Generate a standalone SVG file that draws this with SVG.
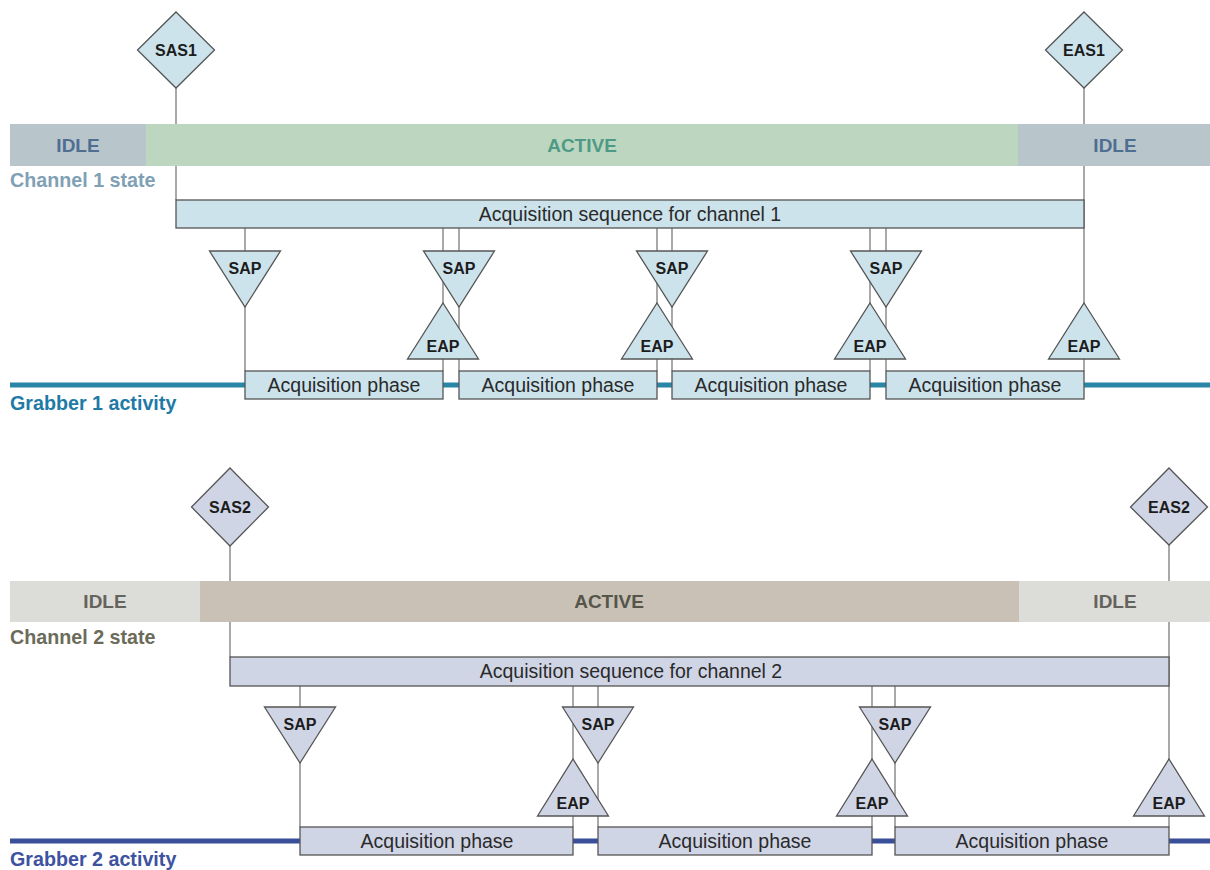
<svg xmlns="http://www.w3.org/2000/svg" width="1210" height="870" viewBox="0 0 1210 870">
<style>
text{font-family:"Liberation Sans",Arial,sans-serif}
.c{stroke:#7a7a7a;stroke-width:1.3;fill:none}
.s1{fill:#cde3ec;stroke:#555;stroke-width:1.3}
.s2{fill:#d0d5e6;stroke:#555;stroke-width:1.3}
.lb{font-size:16px;font-weight:bold;fill:#1c1c1c;text-anchor:middle}
.ph{font-size:19.5px;fill:#2a2a2a;text-anchor:middle}
.st{font-size:19px;font-weight:bold;text-anchor:middle}
.cap{font-size:19.7px;font-weight:bold}
</style>
<rect width="1210" height="870" fill="#fff"/>

<g id="connectors">
<line class="c" x1="176" y1="88" x2="176" y2="200"/>
<line class="c" x1="1084" y1="88" x2="1084" y2="371"/>
<line class="c" x1="245" y1="228" x2="245" y2="371"/>
<line class="c" x1="443" y1="228" x2="443" y2="371"/>
<line class="c" x1="459" y1="228" x2="459" y2="371"/>
<line class="c" x1="657" y1="228" x2="657" y2="371"/>
<line class="c" x1="672" y1="228" x2="672" y2="371"/>
<line class="c" x1="870" y1="228" x2="870" y2="371"/>
<line class="c" x1="886" y1="228" x2="886" y2="371"/>
<line class="c" x1="230" y1="546" x2="230" y2="657"/>
<line class="c" x1="1169" y1="545" x2="1169" y2="827"/>
<line class="c" x1="300" y1="686" x2="300" y2="827"/>
<line class="c" x1="573" y1="686" x2="573" y2="827"/>
<line class="c" x1="598" y1="686" x2="598" y2="827"/>
<line class="c" x1="872" y1="686" x2="872" y2="827"/>
<line class="c" x1="895" y1="686" x2="895" y2="827"/>
</g>

<g id="channel1-state">
<rect x="10" y="124" width="136" height="42" fill="#b8c6cc"/>
<rect x="146" y="124" width="872" height="42" fill="#bdd6bf"/>
<rect x="1018" y="124" width="192" height="42" fill="#b8c6cc"/>
<text class="st" x="78" y="152" fill="#4f6e92">IDLE</text>
<text class="st" x="582" y="152" fill="#4f9a86">ACTIVE</text>
<text class="st" x="1115" y="152" fill="#4f6e92">IDLE</text>
<text class="cap" x="10" y="187" fill="#7fa0b5">Channel 1 state</text>
</g>

<g id="grabber1">
<rect x="10" y="382.5" width="1200" height="5" fill="#2a86a6"/>
<text class="cap" x="10" y="410" fill="#1f7aa6">Grabber 1 activity</text>
</g>

<g id="seq1">
<rect class="s1" x="176" y="200" width="908" height="28"/>
<text class="ph" x="630" y="221">Acquisition sequence for channel 1</text>
</g>

<g id="phases1">
<rect class="s1" x="245" y="371" width="198" height="28"/>
<text class="ph" x="344" y="392">Acquisition phase</text>
<rect class="s1" x="459" y="371" width="198" height="28"/>
<text class="ph" x="558" y="392">Acquisition phase</text>
<rect class="s1" x="672" y="371" width="198" height="28"/>
<text class="ph" x="771" y="392">Acquisition phase</text>
<rect class="s1" x="886" y="371" width="198" height="28"/>
<text class="ph" x="985" y="392">Acquisition phase</text>
</g>

<g id="SAS1">
<polygon class="s1" points="176,12 214.5,50 176,88 137.5,50"/>
<text class="lb" x="176" y="56">SAS1</text>
</g>
<g id="EAS1">
<polygon class="s1" points="1084,12 1122.5,50 1084,88 1045.5,50"/>
<text class="lb" x="1084" y="56">EAS1</text>
</g>

<g id="SAP1-1"><polygon class="s1" points="209.5,251 280.5,251 245,307"/><text class="lb" x="245" y="274">SAP</text></g>
<g id="SAP1-2"><polygon class="s1" points="423.5,251 494.5,251 459,307"/><text class="lb" x="459" y="274">SAP</text></g>
<g id="SAP1-3"><polygon class="s1" points="636.5,251 707.5,251 672,307"/><text class="lb" x="672" y="274">SAP</text></g>
<g id="SAP1-4"><polygon class="s1" points="850.5,251 921.5,251 886,307"/><text class="lb" x="886" y="274">SAP</text></g>

<g id="EAP1-1"><polygon class="s1" points="443,303 478.5,359 407.5,359"/><text class="lb" x="443" y="352">EAP</text></g>
<g id="EAP1-2"><polygon class="s1" points="657,303 692.5,359 621.5,359"/><text class="lb" x="657" y="352">EAP</text></g>
<g id="EAP1-3"><polygon class="s1" points="870,303 905.5,359 834.5,359"/><text class="lb" x="870" y="352">EAP</text></g>
<g id="EAP1-4"><polygon class="s1" points="1084,303 1119.5,359 1048.5,359"/><text class="lb" x="1084" y="352">EAP</text></g>

<g id="channel2-state">
<rect x="10" y="581" width="190" height="41" fill="#dcdcd8"/>
<rect x="200" y="581" width="819" height="41" fill="#c9c1b5"/>
<rect x="1019" y="581" width="191" height="41" fill="#dcdcd8"/>
<text class="st" x="105" y="608" fill="#64645c">IDLE</text>
<text class="st" x="609" y="608" fill="#55554a">ACTIVE</text>
<text class="st" x="1115" y="608" fill="#64645c">IDLE</text>
<text class="cap" x="10" y="644" fill="#6b6b5a">Channel 2 state</text>
</g>

<g id="grabber2">
<rect x="10" y="838.5" width="1200" height="5" fill="#3a4f9a"/>
<text class="cap" x="10" y="866" fill="#3d52a0">Grabber 2 activity</text>
</g>

<g id="seq2">
<rect class="s2" x="230" y="657" width="939" height="29"/>
<text class="ph" x="631" y="678">Acquisition sequence for channel 2</text>
</g>

<g id="phases2">
<rect class="s2" x="300" y="827" width="273" height="28"/>
<text class="ph" x="437" y="848">Acquisition phase</text>
<rect class="s2" x="598" y="827" width="274" height="28"/>
<text class="ph" x="735" y="848">Acquisition phase</text>
<rect class="s2" x="895" y="827" width="274" height="28"/>
<text class="ph" x="1032" y="848">Acquisition phase</text>
</g>

<g id="SAS2">
<polygon class="s2" points="230,468 268.5,507 230,546 191.5,507"/>
<text class="lb" x="230" y="513">SAS2</text>
</g>
<g id="EAS2">
<polygon class="s2" points="1169,468 1207.5,507 1169,545 1130.5,507"/>
<text class="lb" x="1169" y="513">EAS2</text>
</g>

<g id="SAP2-1"><polygon class="s2" points="264.5,707 335.5,707 300,763"/><text class="lb" x="300" y="730">SAP</text></g>
<g id="SAP2-2"><polygon class="s2" points="562.5,707 633.5,707 598,763"/><text class="lb" x="598" y="730">SAP</text></g>
<g id="SAP2-3"><polygon class="s2" points="859.5,707 930.5,707 895,763"/><text class="lb" x="895" y="730">SAP</text></g>

<g id="EAP2-1"><polygon class="s2" points="573,759 608.5,816 537.5,816"/><text class="lb" x="573" y="809">EAP</text></g>
<g id="EAP2-2"><polygon class="s2" points="872,759 907.5,816 836.5,816"/><text class="lb" x="872" y="809">EAP</text></g>
<g id="EAP2-3"><polygon class="s2" points="1169,759 1204.5,816 1133.5,816"/><text class="lb" x="1169" y="809">EAP</text></g>
</svg>
